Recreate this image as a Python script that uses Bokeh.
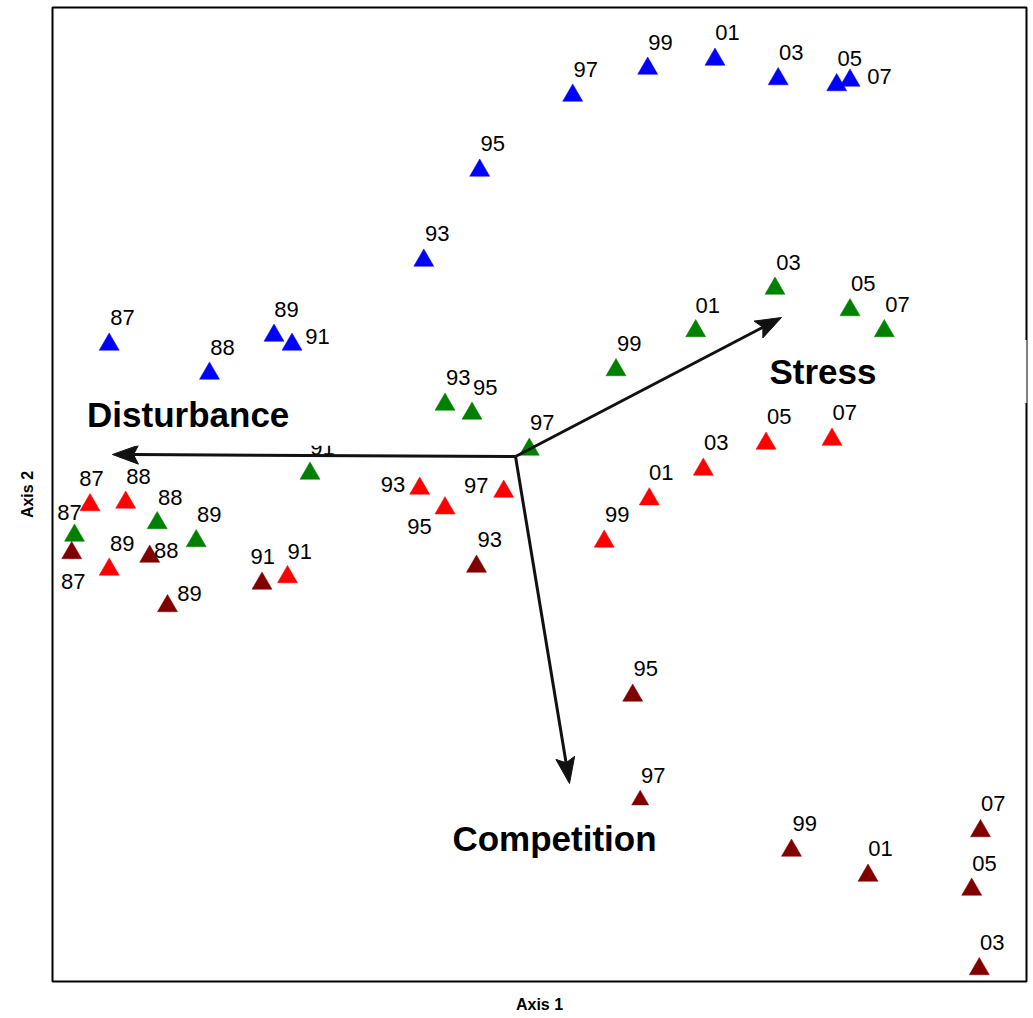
import math
from bokeh.plotting import figure
from bokeh.models import Range1d, ColumnDataSource, Label, FixedTicker
from bokeh.core.properties import value
from bokeh.embed import file_html
from bokeh.resources import INLINE

# ---------------- data (ordination scores) ----------------
years = ["87", "88", "89", "91", "93", "95", "97", "99", "01", "03", "05", "07"]

blue_x = [56.7, 157.0, 221.5, 239.5, 371.3, 427.2, 520.2, 595.2, 662.5, 725.7, 784.2, 797.5]
blue_y = [637.0, 608.0, 646.0, 637.0, 721.0, 811.0, 886.0, 913.0, 922.0, 902.5, 896.5, 901.0]

green_x = [22.0, 104.7, 143.7, 257.5, 392.5, 419.5, 476.8, 563.5, 643.2, 722.5, 797.5, 831.8]
green_y = [446.0, 458.5, 440.5, 508.0, 577.0, 568.0, 532.0, 611.5, 650.5, 693.0, 671.5, 650.5]

red_x = [37.5, 73.2, 56.7, 235.0, 367.2, 392.5, 451.2, 551.7, 596.8, 650.8, 713.5, 779.5]
red_y = [476.5, 479.0, 412.0, 404.5, 493.0, 473.3, 490.0, 440.0, 482.3, 512.0, 538.0, 542.0]

dark_x = [19.2, 97.2, 115.0, 209.5, 424.0, 580.2, 587.7, 739.0, 815.5, 926.8, 919.2, 928.0]
dark_y = [428.5, 425.0, 375.5, 398.0, 415.0, 286.0, 181.5, 131.0, 106.0, 12.5, 92.0, 150.5]

# environmental vectors (origin and tips)
vec_names = ["Disturbance", "Stress", "Competition"]
vec_origin = (463.0, 525.0)
vec_tip_x = [60.0, 729.0, 517.0]
vec_tip_y = [527.0, 664.0, 198.0]

# ---------------- layout / style (not data) ----------------
label_dx = {
    "blue": [13.3, 13, 12.5, 25.5, 13.4, 13.1, 13.1, 12.8, 12.5, 13, 13.1, 29.5],
    "green": [-5, 13, 13, 12.5, 13.2, 13.2, 12.9, 13.2, 12.1, 13.5, 13.2, 13.2],
    "red": [1.5, 12.8, 13, 12.3, -26.7, -25.5, -27.5, 13, 11.9, 12.9, 13.2, 12.8],
    "dark": [1.5, 16.5, 22, 0.8, 13.3, 13.1, 13, 13.3, 12.5, 12.9, 12.8, 12.7],
}
label_dy = {
    "blue": [-27, -26, -26, -8, -26.7, -26.7, -26, -26.3, -27, -26.2, -26.8, -4.3],
    "green": [-23, -25.8, -26.5, -26, -26.7, -26.3, -27.3, -26.2, -25.5, -26, -26.2, -26.5],
    "red": [-26.2, -26.3, -26.3, -25.5, -4, 18.3, -6, -27, -26.4, -27.3, -27.3, -27.3],
    "dark": [28.5, -5.7, -12.8, -26.7, -26.7, -26.7, -24.5, -26.7, -26.7, -26.8, -26.3, -27.2],
}
marker_size = {
    "blue": [20] * 12,
    "green": [20] * 12,
    "red": [20] * 12,
    "dark": [20, 20, 20, 20, 20, 20, 17, 20, 20, 20, 20, 20],
}
colors = {"blue": "#0000FF", "green": "#008000", "red": "#FF0000", "dark": "#800000"}
vec_label_x = [135.7, 770.5, 502.0]
vec_label_y = [567.3, 610.0, 143.0]
vec_label_pad = [
    dict(left=10, right=60, top=12, bottom=12),
    dict(left=15, right=170, top=12, bottom=12),
    dict(left=10, right=10, top=12, bottom=12),
]

FONT = "Liberation Sans"

p = figure(
    width=1033, height=1018,
    x_range=Range1d(0, 974), y_range=Range1d(0, 974),
    output_backend="svg", toolbar_location=None,
    min_border_left=52, min_border_right=7, min_border_top=7, min_border_bottom=37,
)
p.grid.visible = False
p.outline_line_color = "black"
p.outline_line_width = 2
p.outline_line_alpha = 1.0
p.background_fill_color = "white"
p.border_fill_color = "white"

for ax, lab, so in ((p.xaxis, "Axis 1", 14), (p.yaxis, "Axis 2", 17)):
    ax.ticker = FixedTicker(ticks=[])
    ax.axis_line_color = None
    ax.major_tick_line_color = None
    ax.minor_tick_line_color = None
    ax.major_label_text_font_size = "0px"
    ax.axis_label = lab
    ax.axis_label_text_font = FONT
    ax.axis_label_text_font_style = "bold"
    ax.axis_label_text_font_size = "16px"
    ax.axis_label_text_color = "black"
    ax.axis_label_standoff = so

series = [("blue", blue_x, blue_y), ("green", green_x, green_y),
          ("red", red_x, red_y), ("dark", dark_x, dark_y)]

for key, xs, ys in series:
    src = ColumnDataSource(dict(x=xs, y=ys, t=years, dx=label_dx[key], dy=label_dy[key],
                                s=marker_size[key]))
    p.scatter("x", "y", source=src, marker="triangle", size="s",
              fill_color=colors[key], line_color=colors[key], line_width=0.5)
    p.text("x", "y", text="t", source=src, x_offset="dx", y_offset="dy",
           text_font=value(FONT), text_font_size="22px", text_color="black",
           text_align="center", text_baseline="middle")

# vectors with arrow heads
ox, oy = vec_origin
HEAD_L, HEAD_W, NOTCH = 26.0, 19.0, 5.0
shaft_x1, shaft_y1, hx, hy = [], [], [], []
for tx, ty in zip(vec_tip_x, vec_tip_y):
    dx, dy = tx - ox, ty - oy
    n = math.hypot(dx, dy)
    ux, uy = dx / n, dy / n
    px, py = -uy, ux
    bx, by = tx - HEAD_L * ux, ty - HEAD_L * uy
    nx, ny = tx - (HEAD_L - NOTCH) * ux, ty - (HEAD_L - NOTCH) * uy
    shaft_x1.append(nx)
    shaft_y1.append(ny)
    hx.append([tx, bx + HEAD_W / 2 * px, nx, bx - HEAD_W / 2 * px])
    hy.append([ty, by + HEAD_W / 2 * py, ny, by - HEAD_W / 2 * py])

p.segment(x0=[ox] * 3, y0=[oy] * 3, x1=shaft_x1, y1=shaft_y1,
          line_color="#111111", line_width=3)
p.patches(hx, hy, fill_color="#111111", line_color="#111111", line_width=1)

for name, lx, ly, pad in zip(vec_names, vec_label_x, vec_label_y, vec_label_pad):
    p.add_layout(Label(x=lx, y=ly, text=name, text_align="center", text_baseline="middle",
                       x_offset=(pad["right"] - pad["left"]) / 2,
                       text_font=FONT, text_font_style="bold", text_font_size="35px",
                       text_color="black", background_fill_color="white",
                       padding=pad))

open("out.html", "w").write(file_html(p, INLINE))
